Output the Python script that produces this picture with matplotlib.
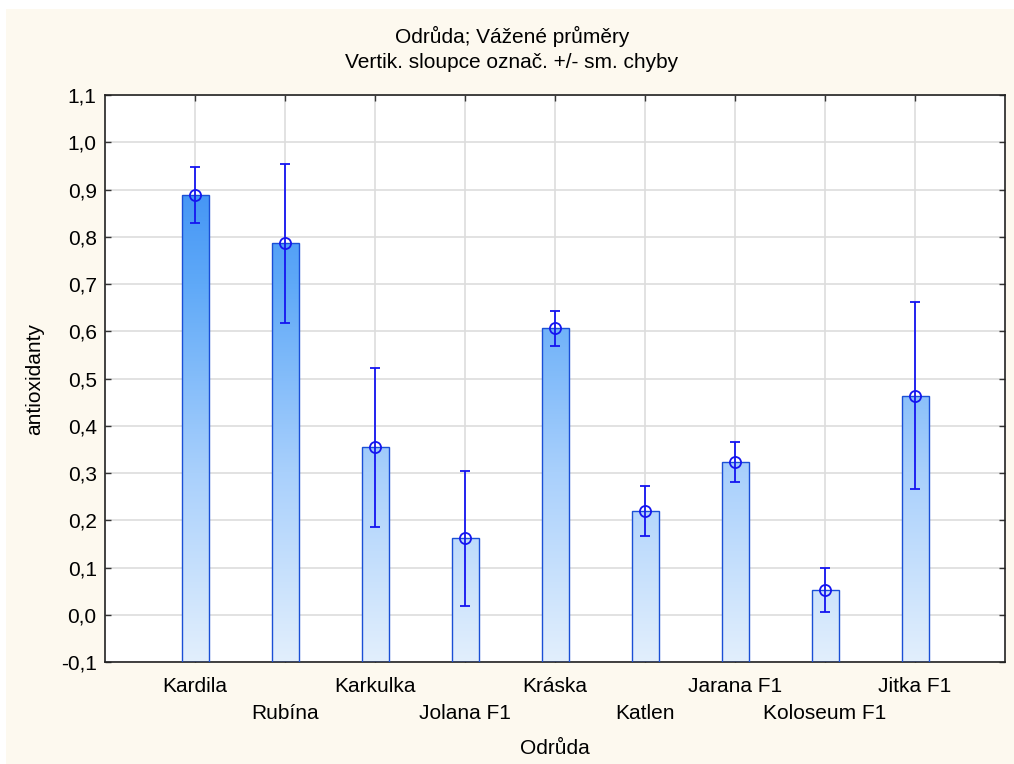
import numpy as np
import matplotlib.pyplot as plt
from matplotlib.colors import LinearSegmentedColormap
from matplotlib.patches import Rectangle

plt.rcParams['font.family'] = ['Liberation Sans', 'DejaVu Sans']
plt.rcParams['font.size'] = 15

# data
odrudy = ['Kardila', 'Rubína', 'Karkulka', 'Jolana F1', 'Kráska',
          'Katlen', 'Jarana F1', 'Koloseum F1', 'Jitka F1']
prumery = [0.888, 0.786, 0.354, 0.162, 0.606, 0.220, 0.324, 0.052, 0.464]
sm_chyby = [0.059, 0.169, 0.169, 0.143, 0.037, 0.053, 0.042, 0.047, 0.198]

ymin, ymax = -0.1, 1.1
x = np.arange(len(odrudy))

fig = plt.figure(figsize=(10.14, 7.64), dpi=100, facecolor='white')
# cream panel behind everything
fig.add_artist(Rectangle((6 / 1014, 0), 1, (764 - 9) / 764,
                         transform=fig.transFigure, facecolor='#fdf9ef',
                         edgecolor='none', zorder=-10))

ax = fig.add_axes([105 / 1014, 1 - 662 / 764, 900 / 1014, (662 - 95) / 764])
ax.set_facecolor('white')

cmap = LinearSegmentedColormap.from_list(
    'grad', ['#e2effd', '#a9d0fc', '#5fa9f8', '#2a82f2'])
grad = np.linspace(ymin, ymax, 256).reshape(-1, 1)

bars = ax.bar(x, np.array(prumery) - ymin, bottom=ymin, width=0.3,
              facecolor='none', edgecolor='#1a4fd6', linewidth=1.0, zorder=3)
for b in bars:
    im = ax.imshow(grad, origin='lower', cmap=cmap, aspect='auto',
                   extent=(-1, 9, ymin, ymax), vmin=ymin, vmax=ymax, zorder=2)
    im.set_clip_path(b)

ax.errorbar(x, prumery, yerr=sm_chyby, fmt='o', mfc='none', mec='#1515f0',
            ms=8, mew=1.3, ecolor='#1515f0', elinewidth=1.3, capsize=3.5,
            capthick=1.3, zorder=4)

ax.set_xlim(-1, 9)
ax.set_ylim(ymin, ymax)
ax.set_yticks(np.arange(-0.1, 1.11, 0.1))
ax.set_yticklabels([f'{v:.1f}'.replace('.', ',') for v in np.arange(-0.1, 1.11, 0.1)])
ax.set_xticks(x)
ax.set_xticklabels(odrudy)

ax.tick_params(direction='in', top=True, right=True, length=4, width=1,
               color='#333333', labelsize=15)
ax.tick_params(axis='x', pad=11)
ax.tick_params(axis='y', pad=6)
# every second label one row lower
for i, t in enumerate(ax.xaxis.get_major_ticks()):
    if i % 2 == 1:
        t.set_pad(30)

ax.grid(True, color='#dddddd', linewidth=1.2, zorder=0)
ax.set_axisbelow(True)
for s in ax.spines.values():
    s.set_color('#222222')
    s.set_linewidth(1.2)

ax.set_xlabel('Odrůda', labelpad=12)
ax.set_ylabel('antioxidanty', labelpad=12)

fig.text(512 / 1014, 1 - 36 / 764, 'Odrůda; Vážené průměry',
         ha='center', va='center', fontsize=15)
fig.text(512 / 1014, 1 - 62 / 764, 'Vertik. sloupce označ. +/- sm. chyby',
         ha='center', va='center', fontsize=15)

fig.savefig('out.png', dpi=100, facecolor=fig.get_facecolor())
